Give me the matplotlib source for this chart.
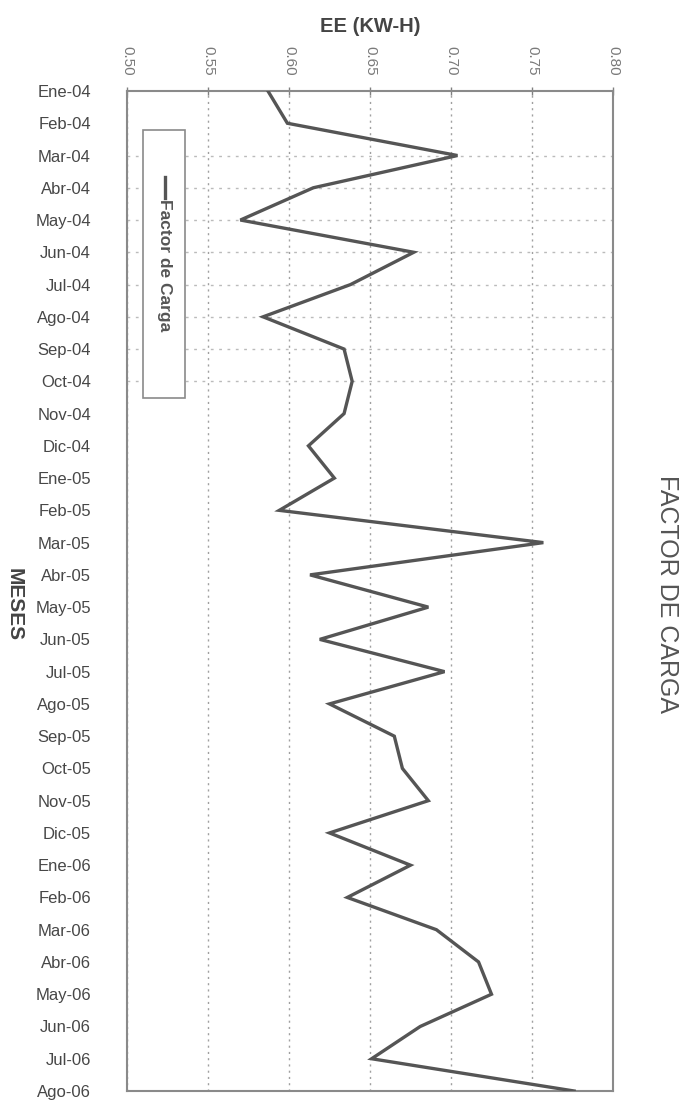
import numpy as np
import matplotlib
matplotlib.use("Agg")
import matplotlib.pyplot as plt
from matplotlib.patches import Rectangle
from matplotlib.lines import Line2D

plt.rcParams['font.family'] = ['Liberation Sans', 'DejaVu Sans']

meses = ["Ene-04", "Feb-04", "Mar-04", "Abr-04", "May-04", "Jun-04", "Jul-04", "Ago-04",
         "Sep-04", "Oct-04", "Nov-04", "Dic-04", "Ene-05", "Feb-05", "Mar-05", "Abr-05",
         "May-05", "Jun-05", "Jul-05", "Ago-05", "Sep-05", "Oct-05", "Nov-05", "Dic-05",
         "Ene-06", "Feb-06", "Mar-06", "Abr-06", "May-06", "Jun-06", "Jul-06", "Ago-06"]
factor_carga = [0.587, 0.599, 0.704, 0.615, 0.570, 0.677, 0.638, 0.584,
                0.634, 0.639, 0.634, 0.612, 0.628, 0.594, 0.757, 0.613,
                0.686, 0.619, 0.696, 0.625, 0.665, 0.670, 0.686, 0.625,
                0.675, 0.636, 0.691, 0.717, 0.725, 0.681, 0.651, 0.776]
xticks = [0.50, 0.55, 0.60, 0.65, 0.70, 0.75, 0.80]

fig = plt.figure(figsize=(6.88, 11.02), dpi=100)
ax = fig.add_axes([127/688, 1 - 1091/1102, 486/688, 1000/1102])

y = np.arange(len(meses))
ax.plot(factor_carga, y, color='#555555', lw=2.4, solid_joinstyle='miter', zorder=3)

ax.set_xlim(0.50, 0.80)
ax.set_ylim(len(meses) - 1, 0)
ax.set_xticks(xticks)
ax.set_xticklabels(["%.2f" % v for v in xticks], rotation=-90, fontsize=11, color='#7a7a7a')
ax.set_yticks(y)
ax.set_yticklabels(meses, fontsize=12, color='#474747')
ax.xaxis.tick_top()
ax.xaxis.set_label_position('top')
ax.tick_params(axis='x', direction='inout', length=6, width=1, color='#808080', pad=8)
ax.tick_params(axis='y', length=0, pad=26)

# vertical dotted grid, plus the faint row lines seen in the upper part
ax.grid(axis='x', ls=(0, (1.5, 3)), color='#a0a0a0', lw=1)
ax.hlines(y[2:10], 0.50, 0.80, colors='#bbbbbb', linestyles=(0, (2, 4)), lw=1, zorder=1)

for s in ax.spines.values():
    s.set_color('#8a8a8a')
    s.set_linewidth(1.5)

ax.set_xlabel("EE (KW-H)", fontsize=14.5, fontweight='bold', color='#444444', labelpad=10)
fig.text(14/688, 1 - 605/1102, "MESES", rotation=-90, fontsize=15, fontweight='bold',
         color='#444444', ha='center', va='center')
fig.text(667/688, 1 - 594/1102, "FACTOR DE CARGA", rotation=-90, fontsize=18,
         color='#555555', ha='center', va='center')

# rotated legend box
ax.add_patch(Rectangle((0.033, 0.693), 0.086, 0.268, transform=ax.transAxes,
                       facecolor='white', edgecolor='#8a8a8a', lw=1.2, zorder=4))
ax.add_line(Line2D([0.078, 0.078], [0.914, 0.893], transform=ax.transAxes,
                   color='#555555', lw=2.4, zorder=5))
ax.text(0.078, 0.892, "Factor de Carga", transform=ax.transAxes, rotation=-90,
        fontsize=12.5, fontweight='bold', color='#555555', ha='center', va='top', zorder=5)

fig.savefig("out.png", dpi=100)
